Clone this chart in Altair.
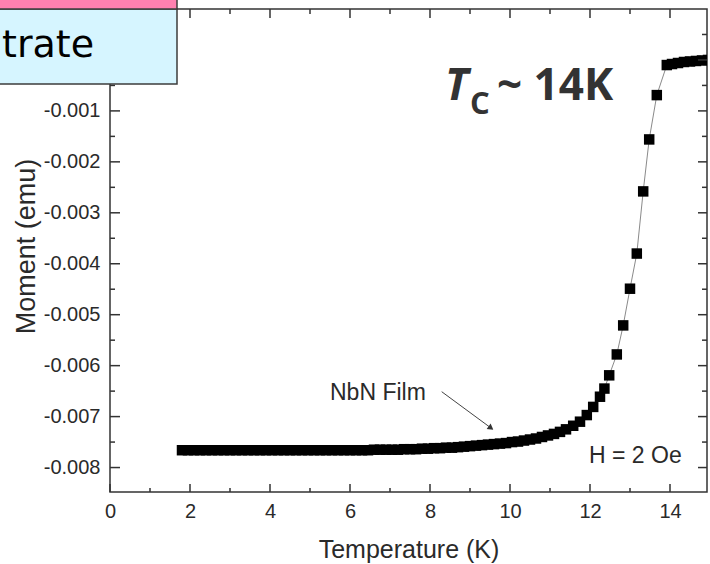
import altair as alt
import pandas as pd

# ---- data (Temperature in K, Moment in emu) ----
temperature = [
    1.80, 1.95, 2.10, 2.25, 2.40, 2.55, 2.70, 2.85, 3.00, 3.15, 3.30, 3.45, 3.60, 3.75,
    3.90, 4.05, 4.20, 4.35, 4.50, 4.65, 4.80, 4.95, 5.10, 5.25, 5.40, 5.55, 5.70, 5.85,
    6.00, 6.15, 6.30, 6.45, 6.60, 6.75, 6.90, 7.05, 7.20, 7.35, 7.50, 7.65, 7.80, 7.95,
    8.10, 8.25, 8.40, 8.55, 8.70, 8.85, 9.00, 9.15, 9.30, 9.45, 9.60, 9.75, 9.90, 10.05,
    10.20, 10.35, 10.50, 10.65, 10.80, 10.95, 11.10, 11.25, 11.40, 11.58, 11.75, 11.92,
    12.08, 12.25, 12.36, 12.48, 12.67, 12.83, 13.00, 13.17, 13.33, 13.48, 13.67, 13.92,
    14.05, 14.20, 14.35, 14.50, 14.65, 14.80, 14.95,
]
moment = [
    -0.00766, -0.00766, -0.00766, -0.00766, -0.00766, -0.00766, -0.00766, -0.00766,
    -0.00766, -0.00766, -0.00766, -0.00766, -0.00766, -0.00766, -0.00766, -0.00766,
    -0.00766, -0.00766, -0.00766, -0.00766, -0.00766, -0.00766, -0.00766, -0.00766,
    -0.00766, -0.00766, -0.00766, -0.00766, -0.00766, -0.00766, -0.00766, -0.00766,
    -0.00765, -0.00765, -0.00765, -0.00765, -0.00765, -0.00764, -0.00764, -0.00764,
    -0.00763, -0.00763, -0.00762, -0.00762, -0.00761, -0.00761, -0.00760, -0.00759,
    -0.00758, -0.00757, -0.00756, -0.00755, -0.00754, -0.00753, -0.00752, -0.00750,
    -0.00749, -0.00747, -0.00745, -0.00743, -0.00740, -0.00737, -0.00734, -0.00730,
    -0.00725, -0.00718, -0.00710, -0.00697, -0.00681, -0.00661, -0.00645, -0.00619,
    -0.00578, -0.00521, -0.00449, -0.00380, -0.00258, -0.00156, -0.00069, -0.00010,
    -0.00008, -0.00006, -0.00004, -0.00003, -0.00002, -0.00001, 0.00000,
]

x_major_ticks = [0, 2, 4, 6, 8, 10, 12, 14]
x_minor_ticks = [1, 3, 5, 7, 9, 11, 13]
y_label_values = [-0.001, -0.002, -0.003, -0.004, -0.005, -0.006, -0.007, -0.008]
y_major_ticks = [0.0, -0.001, -0.002, -0.003, -0.004, -0.005, -0.006, -0.007, -0.008]
y_minor_ticks = [0.0005, -0.0005, -0.0015, -0.0025, -0.0035, -0.0045, -0.0055,
                 -0.0065, -0.0075]

W, H = 597, 483
AX = "#333333"

xscale = alt.Scale(domain=[0, 14.925], nice=False, zero=False)
yscale = alt.Scale(domain=[-0.00848, 0.001], nice=False, zero=False)

df = pd.DataFrame({"T": temperature, "M": moment})

x_axis = alt.Axis(
    values=x_major_ticks, format="d", title="Temperature (K)",
    labelPadding=9, labelFlush=False, titleY=65, titleBaseline="alphabetic",
)
y_axis = alt.Axis(
    values=y_label_values,
    labelExpr="replace(format(datum.value, '.3f'), '\u2212', '-')",
    title="Moment (emu)", labelPadding=10, labelFlush=False, titleFontSize=27,
    titleX=-84, titleY=237, titleAngle=270, titleAlign="center", titleBaseline="middle",
)

X = alt.X("T:Q", scale=xscale, axis=x_axis)
Y = alt.Y("M:Q", scale=yscale, axis=y_axis)

line = alt.Chart(df).mark_line(color="#8a8a8a", strokeWidth=1, clip=True).encode(x=X, y=Y)
points = alt.Chart(df).mark_point(
    shape="square", filled=True, size=110, color="black", opacity=1, clip=True
).encode(x=X, y=Y)


def xticks(vals, y1, y2):
    return alt.Chart(pd.DataFrame({"T": vals})).mark_rule(color=AX, strokeWidth=1.5).encode(
        x=X, y=alt.value(y1), y2=alt.value(y2)
    )


def yticks(vals, x1, x2):
    return alt.Chart(pd.DataFrame({"M": vals})).mark_rule(color=AX, strokeWidth=1.5).encode(
        y=Y, x=alt.value(x1), x2=alt.value(x2)
    )


ticks = [
    xticks(x_major_ticks, H, H - 8), xticks(x_minor_ticks, H, H - 4),
    xticks(x_major_ticks, 0, 9), xticks(x_minor_ticks, 0, 5),
    yticks(y_major_ticks, 0, 10), yticks(y_minor_ticks, 0, 5),
    yticks(y_major_ticks, W, W - 9), yticks(y_minor_ticks, W, W - 5),
]

ONE = alt.Data(values=[{}])


def label(text, x, y, size, font, weight="normal", style="normal", color="#2a2a2a"):
    return alt.Chart(ONE).mark_text(
        text=text, align="left", baseline="alphabetic", font=font, fontSize=size,
        fontWeight=weight, fontStyle=style, color=color,
    ).encode(x=alt.value(x), y=alt.value(y))


annotations = [
    label("T", 335, 91, 44, "Open Sans", "bold", "italic", "#333333"),
    label("C", 360, 104.5, 31, "Open Sans", "bold", "normal", "#333333"),
    label("~ 14K", 387, 91, 44, "Open Sans", "bold", "normal", "#333333"),
    label("NbN Film", 220, 391, 23, "Liberation Sans"),
    label("H = 2 Oe", 479, 454, 23, "Liberation Sans"),
]

arrow_line = alt.Chart(ONE).mark_rule(color="#444444", strokeWidth=1).encode(
    x=alt.value(331.7), y=alt.value(382.7), x2=alt.value(381), y2=alt.value(419)
)
arrow_head = alt.Chart(ONE).mark_point(
    shape="triangle-right", filled=True, size=45, angle=36, color="#333333", opacity=1
).encode(x=alt.value(381), y=alt.value(419))

box = alt.Chart(ONE).mark_rect(fill="#D6F5FF", stroke="#3c3c3c", strokeWidth=1.5).encode(
    x=alt.value(-112), x2=alt.value(67), y=alt.value(0), y2=alt.value(75)
)
pink = alt.Chart(ONE).mark_rect(fill="#FF80B0", stroke="#3c3c3c", strokeWidth=1.5).encode(
    x=alt.value(-112), x2=alt.value(67), y=alt.value(-12), y2=alt.value(0)
)
box_text = label("trate", -108, 47.7, 38, "DejaVu Sans", color="#000000")

chart = alt.layer(
    line, points, *ticks, *annotations, arrow_line, arrow_head, box, pink, box_text
).properties(
    width=W, height=H,
    autosize=alt.AutoSizeParams(type="none"),
    padding={"left": 110, "top": 9, "right": 3, "bottom": 72},
    background="white",
).configure_view(
    stroke=AX, strokeWidth=1.5
).configure_axis(
    domain=False, ticks=False, tickSize=0, grid=False,
    labelFont="Liberation Sans", labelFontSize=20, labelColor="#2a2a2a",
    titleFont="Liberation Sans", titleFontSize=25, titleFontWeight="normal",
    titleColor="#2a2a2a",
)

chart.save("out.html", embed_options={"renderer": "svg", "actions": False})
